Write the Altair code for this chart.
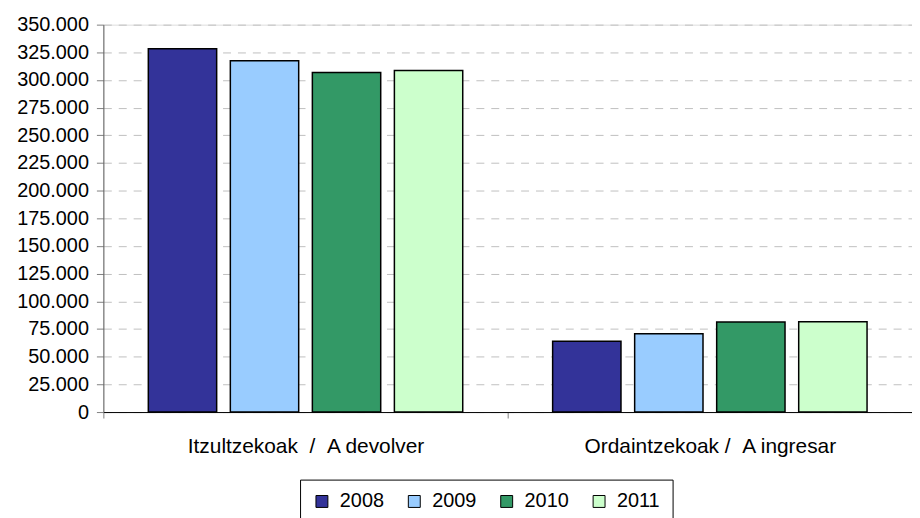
import altair as alt
import pandas as pd

categories = ["Itzultzekoak \u00a0/ \u00a0A devolver", "Ordaintzekoak / \u00a0A ingresar"]
years = ["2008", "2009", "2010", "2011"]
devolver = [328300, 317400, 306800, 308600]
ingresar = [64000, 70800, 81400, 81600]
colors = ["#333399", "#99CCFF", "#339966", "#CCFFCC"]
y_ticks = list(range(0, 350001, 25000))

rows = []
for y, v in zip(years, devolver):
    rows.append({"cat": categories[0], "year": y, "value": v})
for y, v in zip(years, ingresar):
    rows.append({"cat": categories[1], "year": y, "value": v})
df = pd.DataFrame(rows)

FONT = "Liberation Sans"

chart = alt.Chart(df).mark_bar(stroke="black", strokeWidth=1.5).encode(
    x=alt.X("cat:N", sort=categories, title=None,
            scale=alt.Scale(paddingInner=0, paddingOuter=0),
            axis=alt.Axis(labelAngle=0, tickBand="extent", domainColor="black",
                          tickColor="#808080", tickSize=6, labelPadding=18,
                          labelFontSize=21, labelFont=FONT, labelColor="black",
                          labelLimit=0, grid=False)),
    xOffset=alt.XOffset("year:N", sort=years,
                        scale=alt.Scale(paddingInner=0.1667, paddingOuter=0.548)),
    y=alt.Y("value:Q", title=None,
            scale=alt.Scale(domain=[0, 350000], nice=False),
            axis=alt.Axis(values=y_ticks,
                          labelExpr="replace(format(datum.value, ','), ',', '.')",
                          labelFontSize=20, labelFont=FONT, labelColor="black",
                          tickSize=7, tickColor="#808080", domainColor="#606060",
                          labelPadding=8, grid=True, gridColor="#BFBFBF",
                          gridDash=[8, 7], gridWidth=1)),
    color=alt.Color("year:N", sort=years,
                    scale=alt.Scale(domain=years, range=colors),
                    legend=alt.Legend(title=None, orient="none", legendX=198, legendY=458,
                                      direction="horizontal", columns=4,
                                      symbolType="square", symbolSize=144,
                                      symbolStrokeColor="black", symbolStrokeWidth=1,
                                      labelFontSize=20, labelFont=FONT, labelColor="black",
                                      labelOffset=8, columnPadding=20, padding=12,
                                      strokeColor="black", fillColor="white")),
).properties(
    width=814, height=390,
    autosize=alt.AutoSizeParams(type="none"),
    padding={"left": 96, "top": 15, "right": 0, "bottom": 120},
).configure_view(stroke=None).configure(background="white")

chart.save("out.html", embed_options={"renderer": "svg", "actions": False})
